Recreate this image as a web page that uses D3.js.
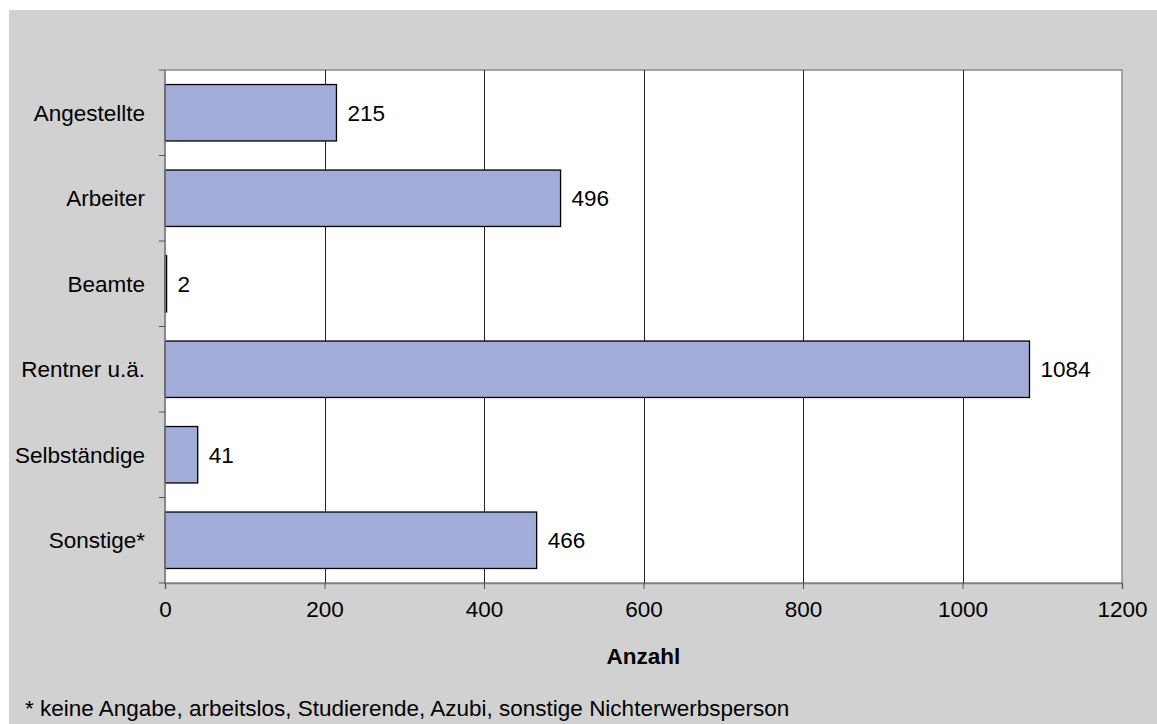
<!DOCTYPE html>
<html>
<head>
<meta charset="utf-8">
<script src="https://cdn.jsdelivr.net/npm/d3@7"></script>
<style>
  body { margin: 0; background: #fff; }
  text { font-family: "Liberation Sans", Arial, sans-serif; fill: #000; }
</style>
</head>
<body>
<div id="chart"></div>
<script>
// Data
var categories = ["Angestellte", "Arbeiter", "Beamte", "Rentner u.ä.", "Selbständige", "Sonstige*"];
var counts = [215, 496, 2, 1084, 41, 466];
var xTicks = [0, 200, 400, 600, 800, 1000, 1200];
var footnote = "* keine Angabe, arbeitslos, Studierende, Azubi, sonstige Nichterwerbsperson";

var svgWidth = 1157;
var svgHeight = 724;
var fontSize = "22.5px";

var plot = { left: 165, top: 70, right: 1122, bottom: 583 };
var width = plot.right - plot.left;
var height = plot.bottom - plot.top;

var svg = d3.select("#chart")
  .append("svg")
  .attr("width", svgWidth)
  .attr("height", svgHeight);

// grey chart background
svg.append("rect")
  .attr("x", 9)
  .attr("y", 10)
  .attr("width", svgWidth - 9)
  .attr("height", svgHeight - 10)
  .attr("fill", "#d1d1d1");

var chartGroup = svg.append("g")
  .attr("transform", `translate(${plot.left}, ${plot.top})`);

// plot area
chartGroup.append("rect")
  .attr("width", width)
  .attr("height", height)
  .attr("fill", "#fff")
  .attr("stroke", "#8c8c8c")
  .attr("stroke-width", 1.5);

// Scales
var xScale = d3.scaleLinear()
  .domain([0, 1200])
  .range([0, width]);

var yScale = d3.scaleBand()
  .domain(categories)
  .range([0, height])
  .paddingInner(0.34)
  .paddingOuter(0.17);

// gridlines
chartGroup.selectAll(".grid")
  .data(xTicks.slice(1, -1))
  .enter()
  .append("line")
  .attr("class", "grid")
  .attr("x1", d => Math.round(xScale(d)) + 0.5)
  .attr("x2", d => Math.round(xScale(d)) + 0.5)
  .attr("y1", 0)
  .attr("y2", height)
  .attr("stroke", "#222")
  .attr("stroke-width", 1);

// bars
var data = categories.map((c, i) => ({ cat: c, value: counts[i] }));

chartGroup.selectAll(".bar")
  .data(data)
  .enter()
  .append("rect")
  .attr("class", "bar")
  .attr("x", 0)
  .attr("y", d => yScale(d.cat))
  .attr("width", d => xScale(d.value))
  .attr("height", yScale.bandwidth())
  .attr("fill", "#a1add8")
  .attr("stroke", "#000")
  .attr("stroke-width", 1.3);

// value labels
chartGroup.selectAll(".val")
  .data(data)
  .enter()
  .append("text")
  .attr("class", "val")
  .attr("x", d => xScale(d.value) + 11)
  .attr("y", d => yScale(d.cat) + yScale.bandwidth() / 2)
  .attr("dy", "0.36em")
  .attr("font-size", fontSize)
  .text(d => d.value);

// x axis
var bottomAxis = d3.axisBottom(xScale)
  .tickValues(xTicks)
  .tickSize(6)
  .tickPadding(12)
  .tickFormat(d3.format("d"));

var xAxisG = chartGroup.append("g")
  .attr("transform", `translate(0, ${height})`)
  .call(bottomAxis);
xAxisG.select(".domain").attr("stroke", "#808080").attr("stroke-width", 1.5);
xAxisG.selectAll(".tick line").attr("stroke", "#555");
xAxisG.selectAll(".tick text")
  .attr("font-family", "Liberation Sans, Arial, sans-serif")
  .attr("font-size", fontSize)
  .attr("fill", "#000");

// y axis: line with ticks at band boundaries
chartGroup.append("line")
  .attr("x1", 0).attr("x2", 0)
  .attr("y1", 0).attr("y2", height)
  .attr("stroke", "#808080")
  .attr("stroke-width", 1.5);

var step = yScale.step();
var boundaries = d3.range(categories.length + 1).map(i => i * step);
chartGroup.selectAll(".ytick")
  .data(boundaries)
  .enter()
  .append("line")
  .attr("class", "ytick")
  .attr("x1", -6).attr("x2", 0)
  .attr("y1", d => d)
  .attr("y2", d => d)
  .attr("stroke", "#555");

chartGroup.selectAll(".ylabel")
  .data(categories)
  .enter()
  .append("text")
  .attr("class", "ylabel")
  .attr("x", -20)
  .attr("y", d => yScale(d) + yScale.bandwidth() / 2)
  .attr("dy", "0.36em")
  .attr("text-anchor", "end")
  .attr("font-size", fontSize)
  .text(d => d);

// axis title
chartGroup.append("text")
  .attr("x", width / 2)
  .attr("y", 664 - plot.top)
  .attr("text-anchor", "middle")
  .attr("font-size", fontSize)
  .attr("font-weight", "bold")
  .text("Anzahl");

// footnote
svg.append("text")
  .attr("x", 25)
  .attr("y", 716)
  .attr("font-size", fontSize)
  .text(footnote);
</script>
</body>
</html>
